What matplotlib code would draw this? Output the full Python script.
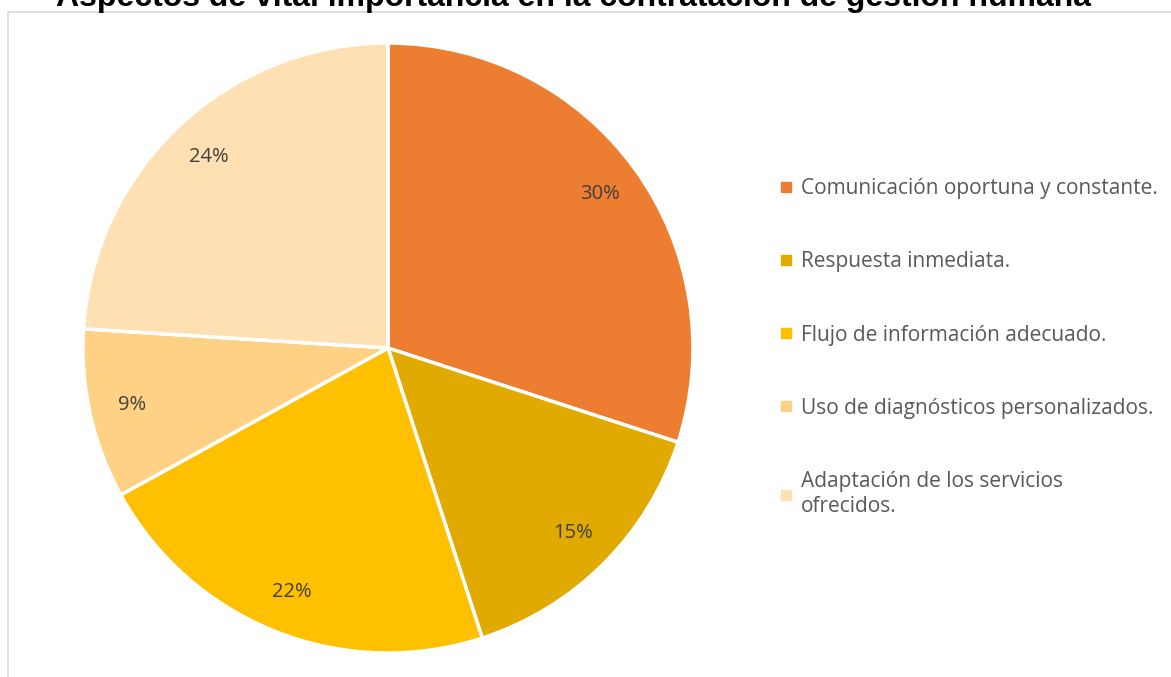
import matplotlib.pyplot as plt
from matplotlib.patches import Rectangle
from matplotlib.lines import Line2D

# datos del grafico
categorias = ["Comunicación oportuna y constante.",
              "Respuesta inmediata.",
              "Flujo de información adecuado.",
              "Uso de diagnósticos personalizados.",
              "Adaptación de los servicios\nofrecidos."]
porcentajes = [30, 15, 22, 9, 24]
colores = ["#ED7D31", "#E0AA00", "#FFC000", "#FFD184", "#FFE0B3"]

titulo = "Aspectos de vital importancia en la contratación de gestión humana"

W, H = 1171, 677
fig = plt.figure(figsize=(W / 100, H / 100), dpi=100)

# marco gris
fig.patches.append(Rectangle((8 / W, -0.1), 1.1, 1 - 12 / H + 0.1,
                             transform=fig.transFigure, fill=False,
                             edgecolor="#D9D9D9", linewidth=1.2))

# titulo (recortado arriba como en la imagen)
fig.text(573 / W, 1 - 6 / H, titulo, ha="center", va="baseline",
         fontsize=23, fontweight="bold", family="Liberation Sans",
         color="black")

# torta
cx, cy, r = 388, 348, 305
ax = fig.add_axes([(cx - r) / W, (H - cy - r) / H, 2 * r / W, 2 * r / H])
ax.pie(porcentajes, colors=colores, startangle=90, counterclock=False,
       labels=[f"{p}%" for p in porcentajes], labeldistance=0.86,
       wedgeprops=dict(edgecolor="white", linewidth=2.5),
       textprops=dict(color="#404040", fontsize=14.5, family="Open Sans",
                      ha="center", va="center"))
for t in ax.texts:
    t.set_horizontalalignment("center")
ax.set_xlim(-1, 1)
ax.set_ylim(-1, 1)
ax.set_aspect("equal")
ax.axis("off")

# leyenda
handles = [Line2D([], [], linestyle="none", marker="s", markersize=6.5,
                  markerfacecolor=c, markeredgecolor=c) for c in colores]
leg = fig.legend(handles, categorias, loc="upper left",
                 bbox_to_anchor=(772 / W, 1 - 170 / H),
                 frameon=False, handlelength=0.55, handletextpad=0.45,
                 labelspacing=2.5, borderaxespad=0,
                 prop=dict(family="Open Sans", size=15))
for t in leg.get_texts():
    t.set_color("#595959")
    t.set_linespacing(1.3)

fig.savefig("out.png", dpi=100)
